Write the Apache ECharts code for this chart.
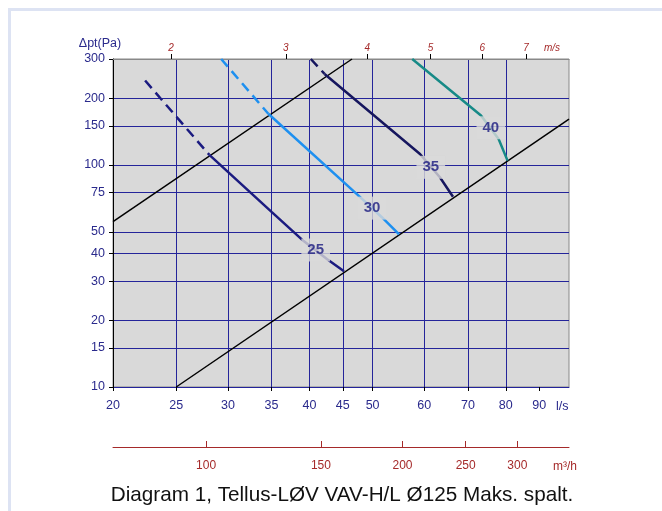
<!DOCTYPE html>
<html>
<head>
<meta charset="utf-8">
<script src="https://cdn.jsdelivr.net/npm/echarts@6/dist/echarts.min.js"></script>
<style>
    html, body { margin: 0; padding: 0; background: #fff; overflow: hidden; }
    #frame { position: absolute; left: 8px; top: 8px; width: 700px; height: 560px;
             border-left: 3px solid #dde3f3; border-top: 3px solid #dde3f3; }
    #chart { position: absolute; left: 0; top: 0; width: 662px; height: 511px; }
</style>
</head>
<body>
<div id="frame"></div>
<div id="chart"></div>
<script>
// axis ticks
const flowTicks = [20, 25, 30, 35, 40, 45, 50, 60, 70, 80, 90];        // l/s
const pressureTicks = [10, 15, 20, 30, 40, 50, 75, 100, 150, 200, 300]; // Pa
const velocityTicks = [2, 3, 4, 5, 6, 7];                               // m/s
const m3hTicks = [100, 150, 200, 250, 300];                              // m3/h

// black system lines (Q l/s, dp Pa)
const systemUpper = [[20, 55.5], [46.5, 300]];
const systemLower = [[25, 10], [100, 161]];

// damper curves: dashed upper part + solid part
const curve25Dashed = [[22.4, 240], [28.1, 111]];
const curve25 = [[28.1, 111], [35, 61.5], [39.2, 45.4], [42.6, 37.6], [45.2, 33.2]];
const curve30Dashed = [[29.3, 300], [34.6, 170]];
const curve30 = [[34.6, 170], [47.9, 71.4], [51.7, 58], [54.9, 48.7]];
const curve35Dashed = [[40.2, 300], [42.2, 257]];
const curve35 = [[42.2, 257], [59.1, 112], [63.4, 88], [66.4, 71.9]];
const curve40 = [[57.5, 300], [73.3, 167], [78, 131], [80.5, 104.6]];

const curveLabels = ['25', '30', '35', '40'];
const labelPoints = [[40.9, 41.4], [49.9, 63.9], [61.4, 97.6], [75.9, 147]];

const FLOW_MIN = 20, FLOW_MAX = 100, P_MIN = 10, P_MAX = 300;
const LS_PER_MS = 1000 * Math.PI * 0.125 * 0.125 / 4; // Ø125 duct

const navy = '#2a2a8c';
const gridColor = '#24249a';
const red = '#a52a2a';
const font = 'Liberation Sans, Arial, sans-serif';

const chart = echarts.init(document.getElementById('chart'));

function line(data, color, width, type) {
    return {
        type: 'line', data: data, symbol: 'none', z: 3,
        lineStyle: { color: color, width: width, type: type || 'solid' }
    };
}

const gridLine = { show: true, showMaxLine: false, lineStyle: { color: gridColor, width: 1 } };

const option = {
    animation: false,
    textStyle: { fontFamily: font },
    title: {
        text: 'Diagram 1, Tellus-LØV VAV-H/L Ø125 Maks. spalt.',
        left: 337, top: 480, textAlign: 'center',
        textStyle: { fontSize: 20.7, fontWeight: 'normal', color: '#111', fontFamily: font }
    },
    grid: {
        left: 113, top: 59, width: 456, height: 328,
        show: true, backgroundColor: '#d9d9d9', borderColor: '#888', borderWidth: 1,
        outerBoundsMode: 'none'
    },
    xAxis: [
        {
            type: 'log', logBase: 10, min: FLOW_MIN, max: FLOW_MAX, position: 'bottom',
            name: 'l/s', nameLocation: 'end', nameGap: -13,
            nameTextStyle: { color: navy, fontSize: 12.5, align: 'left', verticalAlign: 'top', padding: [13, 0, 0, 0] },
            axisLine: { show: true, lineStyle: { color: gridColor, width: 1 } },
            axisTick: { show: true, customValues: flowTicks, length: 4, lineStyle: { color: '#000' } },
            axisLabel: { customValues: flowTicks, color: navy, fontSize: 12.5, margin: 12 },
            splitLine: gridLine
        },
        {
            type: 'log', min: FLOW_MIN / LS_PER_MS, max: FLOW_MAX / LS_PER_MS, position: 'top',
            name: 'm/s', nameLocation: 'end', nameGap: -25,
            nameTextStyle: { color: red, fontSize: 10, fontStyle: 'italic', align: 'left', verticalAlign: 'bottom', padding: [0, 0, 6, 0] },
            axisLine: { show: true, lineStyle: { color: '#888', width: 1 } },
            axisTick: { show: true, customValues: velocityTicks, length: 5, lineStyle: { color: '#000' } },
            axisLabel: { customValues: velocityTicks, color: red, fontSize: 10, fontStyle: 'italic', margin: 6 },
            splitLine: { show: false }
        },
        {
            type: 'log', min: FLOW_MIN * 3.6, max: FLOW_MAX * 3.6, position: 'bottom', offset: 60,
            name: 'm³/h', nameLocation: 'end', nameGap: -16,
            nameTextStyle: { color: red, fontSize: 12, align: 'left', verticalAlign: 'top', padding: [14, 0, 0, 0] },
            axisLine: { show: true, lineStyle: { color: red, width: 1 } },
            axisTick: { show: true, inside: true, customValues: m3hTicks, length: 6, lineStyle: { color: red } },
            axisLabel: { customValues: m3hTicks, color: red, fontSize: 12, margin: 13 },
            splitLine: { show: false }
        }
    ],
    yAxis: {
        type: 'log', logBase: 10, min: P_MIN, max: P_MAX, position: 'left',
        name: 'Δpt(Pa)', nameLocation: 'end', nameGap: 9,
        nameTextStyle: { color: navy, fontSize: 12.5, padding: [0, 26, 0, 0] },
        axisLine: { show: true, lineStyle: { color: '#000', width: 1 } },
        axisTick: { show: true, customValues: pressureTicks, length: 4, lineStyle: { color: '#000' } },
        axisLabel: { customValues: pressureTicks, color: navy, fontSize: 12.5, margin: 8 },
        splitLine: gridLine
    },
    series: [
        line(systemUpper, '#000', 1.5),
        line(systemLower, '#000', 1.5),
        line(curve25Dashed, '#1b1b80', 2.5, [10, 6]),
        line(curve25, '#1b1b80', 2.5),
        line(curve30Dashed, '#1e90f0', 2.5, [10, 6]),
        line(curve30, '#1e90f0', 2.5),
        line(curve35Dashed, '#16165e', 2.5, [10, 6]),
        line(curve35, '#16165e', 2.5),
        line(curve40, '#178a87', 2.5),
        {
            type: 'scatter', z: 6, symbolSize: 1,
            itemStyle: { color: 'transparent' },
            data: labelPoints.map((p, i) => ({ value: p, name: curveLabels[i] })),
            label: {
                show: true, position: 'inside', formatter: '{b}',
                color: '#1a1a80', fontSize: 15, fontWeight: 'bold',
                backgroundColor: '#d9d9d9', padding: [4, 6]
            }
        }
    ]
};

chart.setOption(option);
</script>
</body>
</html>
